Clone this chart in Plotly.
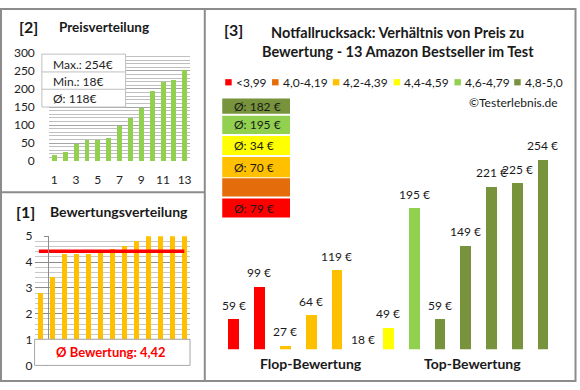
import plotly.graph_objects as go

# ---------------- data ----------------
price_idx = list(range(1, 14))
prices_sorted = [18, 27, 49, 59, 59, 64, 99, 119, 149, 195, 221, 225, 254]
price_ticks = [1, 3, 5, 7, 9, 11, 13]

ratings_sorted = [2.8, 3.4, 4.3, 4.3, 4.3, 4.4, 4.5, 4.6, 4.8, 5.0, 5.0, 5.0, 5.0]

groups = ["<3,99", "4,0-4,19", "4,2-4,39", "4,4-4,59", "4,6-4,79", "4,8-5,0"]
bar_prices = [59, 99, 27, 64, 119, 18, 49, 195, 59, 149, 221, 225, 254]
bar_groups = ["<3,99", "<3,99", "4,2-4,39", "4,2-4,39", "4,2-4,39", "4,4-4,59", "4,4-4,59",
              "4,6-4,79", "4,8-5,0", "4,8-5,0", "4,8-5,0", "4,8-5,0", "4,8-5,0"]

# ---------------- style ----------------
W, H = 580, 390
FONT = "Lato"
group_colors = {"<3,99": "#FF0000", "4,0-4,19": "#E46C0A", "4,2-4,39": "#FFC000",
                "4,4-4,59": "#FFFF00", "4,6-4,79": "#92D050", "4,8-5,0": "#77933C"}
FRAME = "#8c8c8c"
TXT = "#1a1a1a"


def px(x):
    return x / W


def py(y):
    return 1 - y / H


fig = go.Figure()

# ---- [2] Preisverteilung ----
fig.add_trace(go.Bar(x=price_idx, y=prices_sorted, marker_color="#92D050", width=0.45,
                     marker_line_width=0,
                     xaxis="x", yaxis="y", showlegend=False, hoverinfo="skip"))
# ---- [1] Bewertungsverteilung ----
fig.add_trace(go.Bar(x=price_idx, y=ratings_sorted, marker_color="#FFC000", width=0.42,
                     marker_line_width=0,
                     xaxis="x2", yaxis="y2", showlegend=False, hoverinfo="skip"))
avg_rating = sum(ratings_sorted) / len(ratings_sorted)
fig.add_trace(go.Scatter(x=[0.86, 13.02], y=[avg_rating, avg_rating], mode="lines",
                         line=dict(color="#FF0000", width=3.5), xaxis="x2", yaxis="y2",
                         showlegend=False, hoverinfo="skip"))
# ---- [3] main chart ----
YMIN3 = 22.5
bar_x = list(range(1, len(bar_prices) + 1))
fig.add_trace(go.Bar(x=bar_x, y=bar_prices, base=0, marker_line_width=0,
                     marker_color=[group_colors[g] for g in bar_groups], width=0.42,
                     xaxis="x3", yaxis="y3", showlegend=False, hoverinfo="skip"))

annotations = []
shapes = []

for xi, v in zip(bar_x, bar_prices):
    clipped = v < YMIN3
    annotations.append(dict(x=xi, y=max(v, YMIN3), xref="x3", yref="y3", text=f"{v} €",
                            showarrow=False, yanchor="middle", yshift=10 if clipped else 14,
                            font=dict(size=12, color=TXT, family=FONT)))

fig.update_layout(
    width=W, height=H, margin=dict(l=0, r=0, t=0, b=0),
    paper_bgcolor="white", plot_bgcolor="white",
    font=dict(family=FONT, color=TXT),
    bargap=0,
    xaxis=dict(domain=[px(49), px(190.7)], range=[0.5, 13.5], tickvals=price_ticks,
               showgrid=False, zeroline=False, showline=False, ticks="",
               ticklabelstandoff=10, tickfont=dict(size=12, color="#222")),
    yaxis=dict(domain=[py(159.3), py(46.7)], range=[0, 300], dtick=50, showgrid=True,
               gridcolor="#a6a6a6", gridwidth=1, zeroline=False, showline=False, ticks="",
               ticklabelstandoff=13, tickfont=dict(size=12, color="#222"),
               minor=dict(dtick=10, showgrid=True, gridcolor="#bfbfbf", gridwidth=1)),
    xaxis2=dict(domain=[px(34.7), px(190.7)], range=[0.5, 13.5], showticklabels=False,
                showgrid=False, zeroline=False, showline=False, ticks=""),
    yaxis2=dict(domain=[py(371.7), py(237.3)], range=[0, 5], dtick=1, showgrid=True,
                gridcolor="#8c8c8c", gridwidth=1, zeroline=False, showline=True,
                linecolor="#8c8c8c", linewidth=1, ticks="outside", ticklen=4,
                tickcolor="#8c8c8c", ticklabelstandoff=9, tickfont=dict(size=12, color="#222"),
                minor=dict(dtick=0.2, showgrid=True, gridcolor="#c8c8c8", gridwidth=1)),
    xaxis3=dict(domain=[px(221.6), px(557.7)], range=[0.5, 13.5], visible=False),
    yaxis3=dict(domain=[py(355), py(100)], range=[YMIN3, YMIN3 + 255 * 1.175], visible=False),
)

# ---- frames ----
shapes.append(dict(type="rect", xref="paper", yref="paper", x0=px(1), x1=px(577.5),
                   y0=py(388), y1=py(1), line=dict(color=FRAME, width=2)))
shapes.append(dict(type="line", xref="paper", yref="paper", x0=px(205.5), x1=px(205.5),
                   y0=py(388), y1=py(1), line=dict(color=FRAME, width=2)))
shapes.append(dict(type="line", xref="paper", yref="paper", x0=px(1), x1=px(205.5),
                   y0=py(191.5), y1=py(191.5), line=dict(color=FRAME, width=2)))

# ---- panel [2] titles and info box ----
annotations.append(dict(x=px(17), y=py(19), xref="paper", yref="paper", text="<b>[2]</b>",
                        showarrow=False, xanchor="left", yanchor="middle",
                        font=dict(size=16, color=TXT, family=FONT)))
annotations.append(dict(x=px(57), y=py(20), xref="paper", yref="paper",
                        text="<b>Preisverteilung</b>", showarrow=False, xanchor="left",
                        yanchor="middle", font=dict(size=13.5, color=TXT, family=FONT)))
shapes.append(dict(type="rect", xref="paper", yref="paper", x0=px(42), x1=px(126),
                   y0=py(103), y1=py(48), fillcolor="white", line=dict(color="#bfbfbf", width=1)))
for yy in (66.5, 84.5):
    shapes.append(dict(type="line", xref="paper", yref="paper", x0=px(42), x1=px(126),
                       y0=py(yy), y1=py(yy), line=dict(color="#bfbfbf", width=1)))
avg_price = sum(prices_sorted) / len(prices_sorted)
info = [f"Max.: {max(prices_sorted)}€", f"Min.: {min(prices_sorted)}€", f"Ø: {round(avg_price)}€"]
for txt, yy in zip(info, (58.5, 76.5, 94)):
    annotations.append(dict(x=px(51), y=py(yy), xref="paper", yref="paper", text=txt,
                            showarrow=False, xanchor="left", yanchor="middle",
                            font=dict(size=12, color="#222", family=FONT)))

# ---- panel [1] ----
annotations.append(dict(x=px(14), y=py(212), xref="paper", yref="paper", text="<b>[1]</b>",
                        showarrow=False, xanchor="left", yanchor="middle",
                        font=dict(size=16, color=TXT, family=FONT)))
annotations.append(dict(x=px(48), y=py(212), xref="paper", yref="paper",
                        text="<b>Bewertungsverteilung</b>", showarrow=False, xanchor="left",
                        yanchor="middle", font=dict(size=14, color=TXT, family=FONT)))
shapes.append(dict(type="rect", xref="paper", yref="paper", x0=px(34.7), x1=px(190.7),
                   y0=py(371.7), y1=py(344.5), fillcolor="white",
                   line=dict(color="#a6a6a6", width=1)))
annotations.append(dict(x=px(111), y=py(358), xref="paper", yref="paper",
                        text="<b>Ø Bewertung: " + f"{avg_rating:.2f}".replace(".", ",") + "</b>",
                        showarrow=False, xanchor="center", yanchor="middle",
                        font=dict(size=13, color="#FF0000", family=FONT)))

# ---- panel [3] ----
annotations.append(dict(x=px(223), y=py(22), xref="paper", yref="paper", text="<b>[3]</b>",
                        showarrow=False, xanchor="left", yanchor="middle",
                        font=dict(size=16, color=TXT, family=FONT)))
for txt, yy in (("Notfallrucksack: Verhältnis von Preis zu", 25),
                ("Bewertung - 13 Amazon Bestseller im Test", 45)):
    annotations.append(dict(x=px(399), y=py(yy), xref="paper", yref="paper",
                            text=f"<b>{txt}</b>", showarrow=False, xanchor="center",
                            yanchor="middle", font=dict(size=14.5, color=TXT, family=FONT)))

legend_x = [226, 273, 334, 395, 456, 516]
for g, lx in zip(groups, legend_x):
    shapes.append(dict(type="rect", xref="paper", yref="paper", x0=px(lx), x1=px(lx + 6.5),
                       y0=py(80.5), y1=py(74), fillcolor=group_colors[g], line=dict(width=0)))
    annotations.append(dict(x=px(lx + 8.5), y=py(77.5), xref="paper", yref="paper", text=g,
                            showarrow=False, xanchor="left", yanchor="middle",
                            font=dict(size=12, color=TXT, family=FONT)))

annotations.append(dict(x=px(562), y=py(98.5), xref="paper", yref="paper",
                        text="©Testerlebnis.de", showarrow=False, xanchor="right",
                        yanchor="middle", font=dict(size=12, color=TXT, family=FONT)))

# average boxes (top to bottom: best group first)
box_rows = [(94, 110), (112, 131), (133, 153), (155, 176), (177, 196), (198, 218)]
for g, (y0, y1) in zip(list(reversed(groups)), box_rows):
    shapes.append(dict(type="rect", xref="paper", yref="paper", x0=px(223), x1=px(291),
                       y0=py(y1), y1=py(y0), fillcolor=group_colors[g], line=dict(width=0)))
    vals = [p for p, bg in zip(bar_prices, bar_groups) if bg == g]
    if vals:
        annotations.append(dict(x=px(233), y=py((y0 + y1) / 2), xref="paper", yref="paper",
                                text=f"Ø: {round(sum(vals) / len(vals))} €", showarrow=False,
                                xanchor="left", yanchor="middle",
                                font=dict(size=12, color=TXT, family=FONT)))

for txt, xx in (("Flop-Bewertung", 312), ("Top-Bewertung", 474)):
    annotations.append(dict(x=px(xx), y=py(370), xref="paper", yref="paper",
                            text=f"<b>{txt}</b>", showarrow=False, xanchor="center",
                            yanchor="middle", font=dict(size=14, color=TXT, family=FONT)))

fig.update_layout(shapes=shapes, annotations=annotations)
fig.write_html("out.html", config={"displayModeBar": False},
               post_script="document.body.style.margin='0';document.body.style.overflow='hidden';")
